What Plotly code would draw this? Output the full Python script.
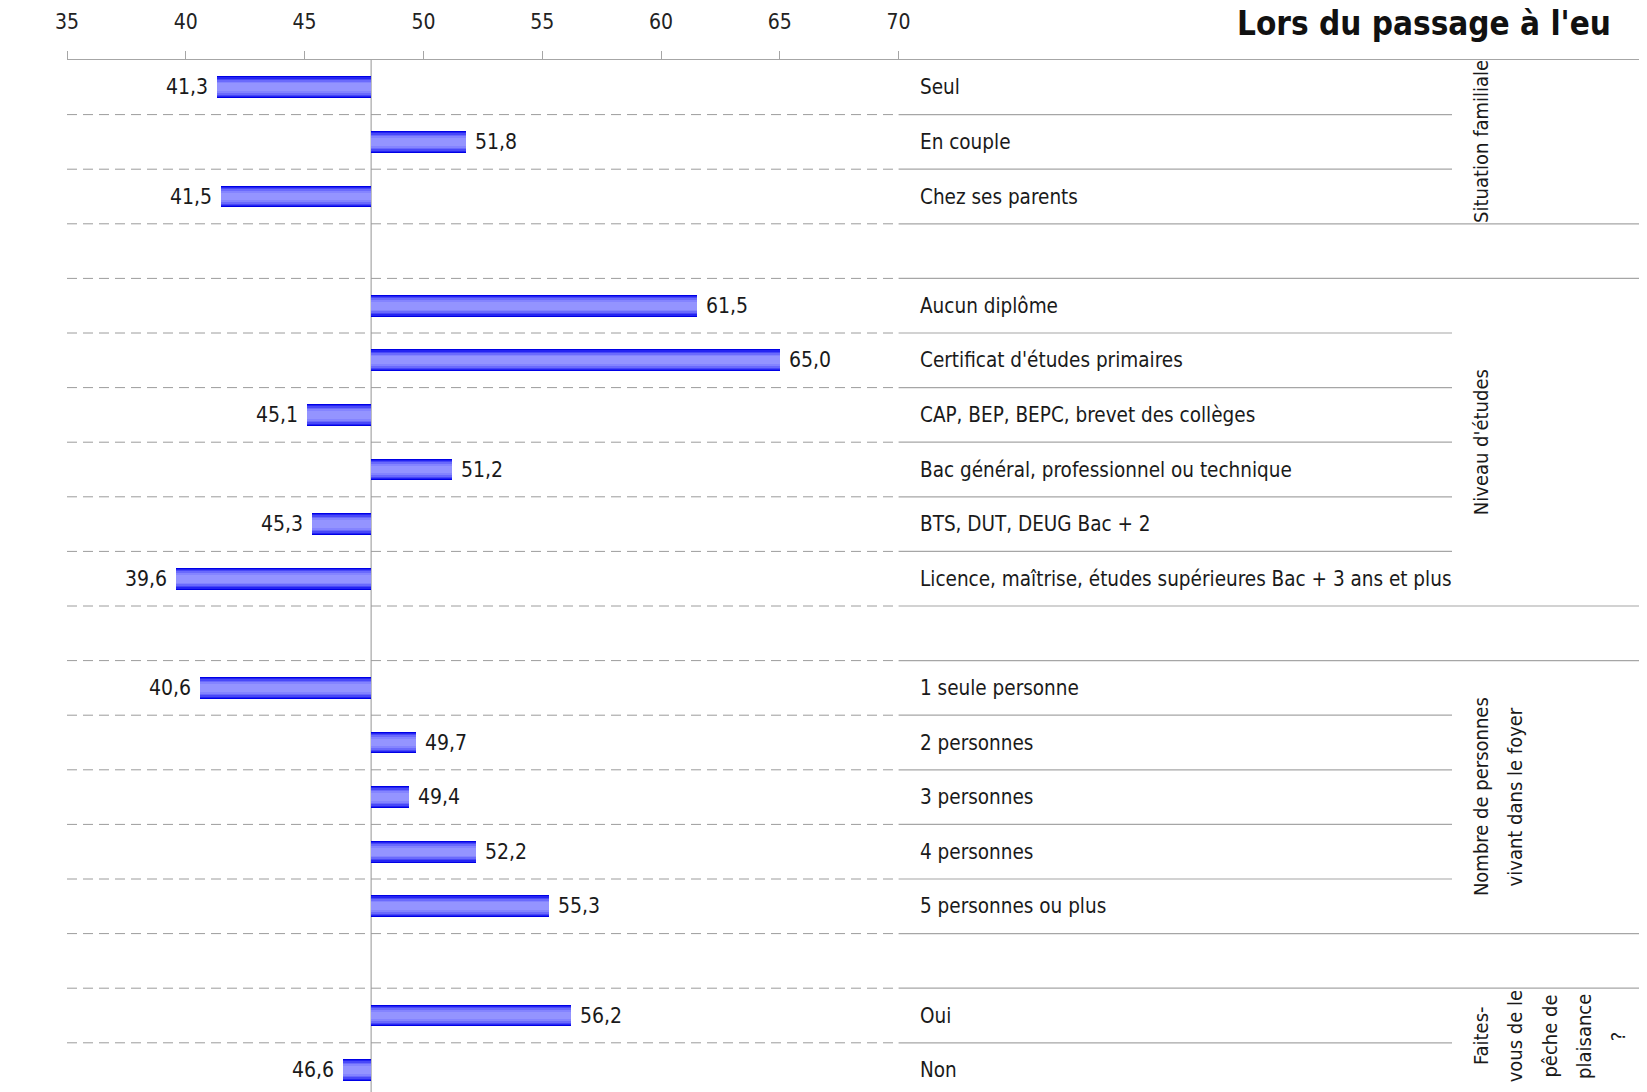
import plotly.graph_objects as go

# ---------------- data ----------------
categories = [
    "Seul", "En couple", "Chez ses parents", "",
    "Aucun diplôme", "Certificat d'études primaires",
    "CAP, BEP, BEPC, brevet des collèges",
    "Bac général, professionnel ou technique",
    "BTS, DUT, DEUG Bac + 2",
    "Licence, maîtrise, études supérieures Bac + 3 ans et plus", "",
    "1 seule personne", "2 personnes", "3 personnes", "4 personnes",
    "5 personnes ou plus", "",
    "Oui", "Non",
]
values = [41.3, 51.8, 41.5, None,
          61.5, 65.0, 45.1, 51.2, 45.3, 39.6, None,
          40.6, 49.7, 49.4, 52.2, 55.3, None,
          56.2, 46.6]
baseline = 47.8

group_lines = [
    ["Situation familiale"],
    ["Niveau d'études"],
    ["Nombre de personnes", "vivant dans le foyer"],
    ["Faites-", "vous de le", "pêche de", "plaisance", "?"],
]
group_rows = [[0, 1, 2], [4, 5, 6, 7, 8, 9], [11, 12, 13, 14, 15], [17, 18]]

tick_values = [35, 40, 45, 50, 55, 60, 65, 70]
title_text = "Lors du passage à l'eu"

# ---------------- layout constants (page pixels) ----------------
OFF = 8                     # default body margin of the html page
PAGE_W, PAGE_H = 1647, 1092
W, H = PAGE_W - OFF, PAGE_H - OFF
ML = 67 - OFF
MT = 60 - OFF
MR = W - (1642 - OFF)
MB = 0
PX_PER_UNIT = 23.76
plot_w = W - ML - MR
plot_h = H - MT - MB
x_min = 35
x_max = x_min + plot_w / PX_PER_UNIT
ROW_PX = 54.6
y_top = -0.5
y_bot = y_top + plot_h / ROW_PX

FONT = "Liberation Sans Narrow, DejaVu Sans Condensed, Arial Narrow, sans-serif"
TXT = "#1a1a1a"
LINE = "#a6a6a6"
DASH = "#9c9c9c"


def px_to_x(page_px):
    return x_min + (page_px - OFF - ML) / PX_PER_UNIT


def px_to_paper_y(page_py):
    return 1 - (page_py - OFF - MT) / plot_h


def px_to_y(page_py):
    return y_top + (page_py - OFF - MT) / ROW_PX


fig = go.Figure()

rows = [i for i, v in enumerate(values) if v is not None]
vals = [values[i] for i in rows]

# gradient bars: overlaid bars of decreasing thickness
layers = [(0.40, "#0000e6"), (0.36, "#2424f2"), (0.32, "#4848f8"),
          (0.27, "#6a6afc"), (0.21, "#8484ff"), (0.14, "#9494ff")]
for w, c in layers:
    fig.add_trace(go.Bar(
        orientation="h", y=rows, x=[v - baseline for v in vals], base=baseline,
        width=w, marker=dict(color=c, line=dict(width=0)),
        showlegend=False, hoverinfo="skip"))

annotations = []
# value labels
for r, v in zip(rows, vals):
    left = v < baseline
    annotations.append(dict(
        x=v, y=r, xref="x", yref="y", showarrow=False,
        text=f"{v:.1f}".replace(".", ","),
        xanchor="right" if left else "left", yanchor="middle",
        xshift=-7 if left else 7,
        font=dict(family=FONT, size=21, color=TXT)))

# category labels
for i, c in enumerate(categories):
    if c:
        annotations.append(dict(
            x=px_to_x(918), y=i, xref="x", yref="y", showarrow=False,
            text=c, xanchor="left", yanchor="middle",
            font=dict(family=FONT, size=20.5, color=TXT)))

# group labels (rotated)
for lines, grp in zip(group_lines, group_rows):
    yc = (grp[0] + grp[-1]) / 2
    if grp[-1] == len(categories) - 1:
        yc = min(yc, px_to_y(1036))
    for k, ln in enumerate(lines):
        annotations.append(dict(
            x=px_to_x(1481 + k * 34.3), y=yc, xref="x", yref="y",
            showarrow=False, text=ln, textangle=-90,
            xanchor="center", yanchor="middle",
            font=dict(family=FONT, size=20, color=TXT)))

# percent sign and title
annotations.append(dict(
    x=px_to_x(21), y=px_to_paper_y(79), xref="x", yref="paper",
    showarrow=False, text="%", xanchor="center", yanchor="middle",
    font=dict(family=FONT, size=21, color=TXT)))
annotations.append(dict(
    x=px_to_x(1236), y=px_to_paper_y(3), xref="x", yref="paper",
    showarrow=False, text=f"<b>{title_text}</b>", xanchor="left",
    yanchor="top", borderpad=0,
    font=dict(family=FONT, size=33, color="#111111")))

shapes = []
# dashed row separators in bar area
for k in range(len(categories) - 1):
    yb = k + 0.5
    shapes.append(dict(type="line", xref="x", yref="y", x0=35, x1=70,
                       y0=yb, y1=yb,
                       line=dict(color=DASH, width=1, dash="10px,6px")))
# solid separators in label area
group_edges = set()
for grp in group_rows:
    group_edges.add(grp[0] - 0.5)
    group_edges.add(grp[-1] + 0.5)
for k in range(len(categories) - 1):
    yb = k + 0.5
    long = yb in group_edges
    shapes.append(dict(type="line", xref="x", yref="y", x0=70,
                       x1=x_max if long else px_to_x(1452),
                       y0=yb, y1=yb, line=dict(color=LINE, width=1.2)))
# baseline
shapes.append(dict(type="line", xref="x", yref="paper", x0=baseline,
                   x1=baseline, y0=0, y1=1,
                   line=dict(color=LINE, width=1.2), layer="below"))

fig.update_layout(
    width=W, height=H,
    margin=dict(l=ML, r=MR, t=MT, b=MB, autoexpand=False),
    paper_bgcolor="white", plot_bgcolor="white",
    barmode="overlay", bargap=0,
    showlegend=False,
    annotations=annotations, shapes=shapes,
    xaxis=dict(range=[x_min, x_max], side="top", tickvals=tick_values,
               ticktext=[str(t) for t in tick_values],
               showgrid=False, zeroline=False, showline=True,
               linecolor=LINE, linewidth=1.2, ticks="outside", ticklen=8,
               tickcolor=LINE, ticklabelstandoff=14,
               tickfont=dict(family=FONT, size=21, color="#222222")),
    yaxis=dict(range=[y_bot, y_top], showgrid=False, zeroline=False,
               showticklabels=False, showline=False, ticks=""),
)

fig.write_html("out.html")
